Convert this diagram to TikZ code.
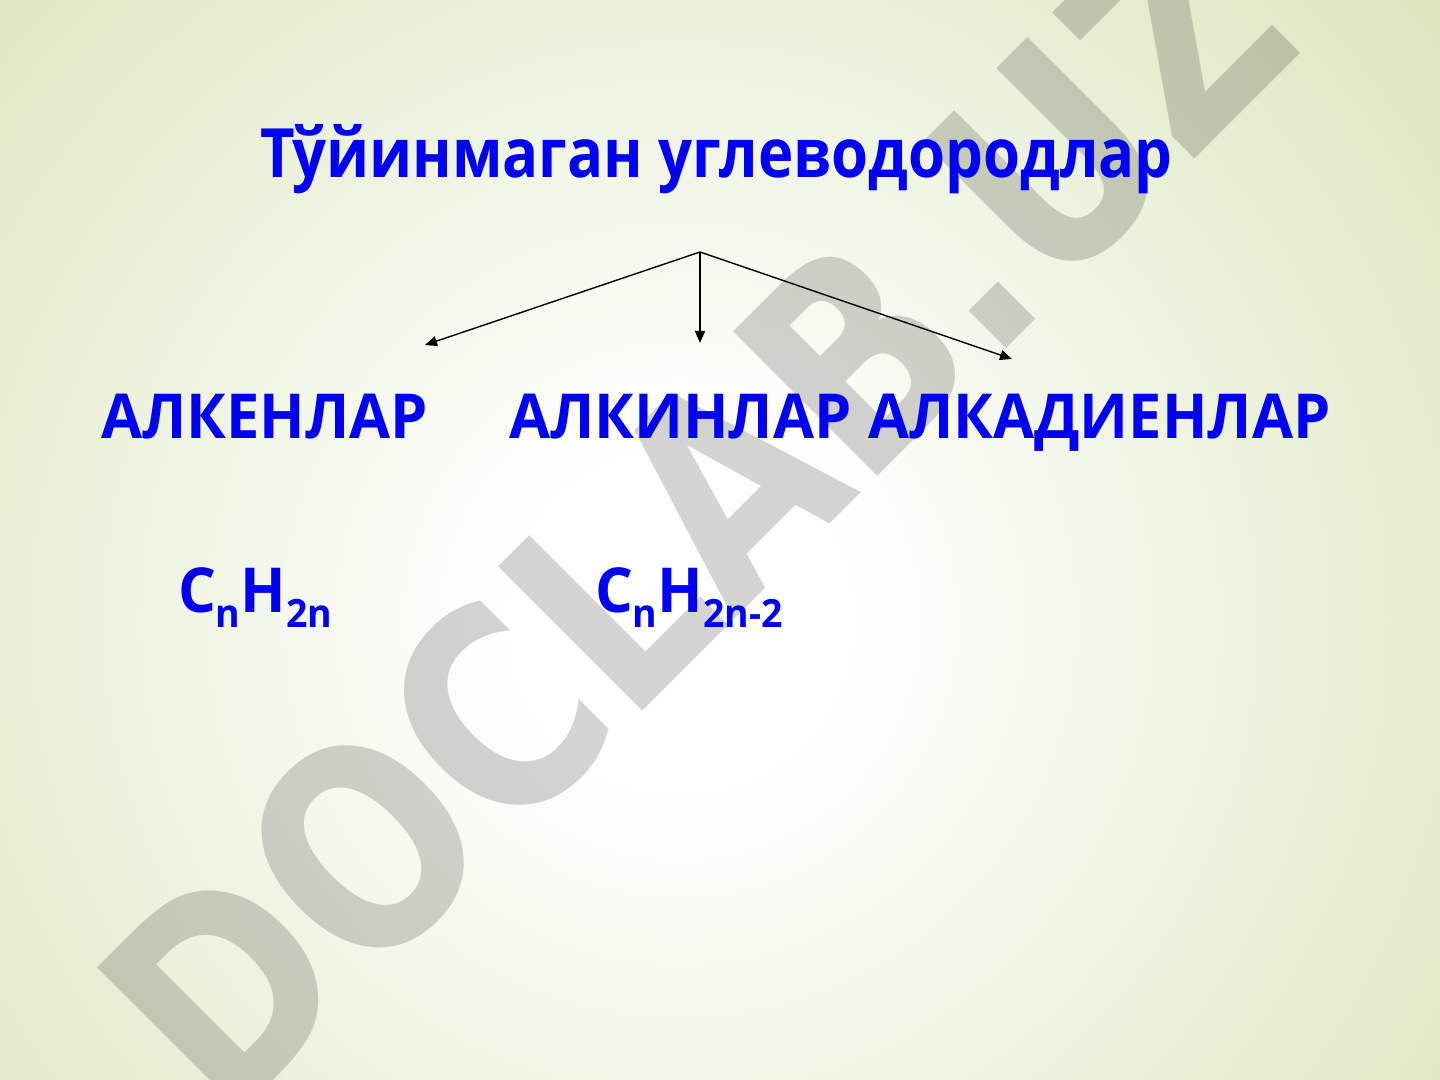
\documentclass[tikz,border=0pt]{standalone}
\usepackage{fontspec}
\setmainfont{Open Sans}
\newfontfamily\wmfont{DejaVu Sans}
\usepackage{graphicx}
\usetikzlibrary{arrows.meta}
\definecolor{bggreen}{RGB}{220,231,192}
\definecolor{txtblue}{RGB}{0,0,245}
\pgfdeclareradialshading{bgshade}{\pgfpoint{0bp}{0bp}}{color(0bp)=(white); color(4bp)=(white); color(24bp)=(bggreen); color(25bp)=(bggreen); color(50bp)=(bggreen)}
\newcommand{\sqz}[1]{\scalebox{0.88}[1]{#1}}
\newcommand{\sqzb}[1]{\scalebox{0.96}[1]{#1}}
\newcommand{\subtxt}[1]{\raisebox{-7.5pt}{\fontsize{19.5}{21}\selectfont #1}}
\begin{document}
\begin{tikzpicture}[x=0.5pt,y=-0.5pt,
  lbl/.style={inner sep=0pt, outer sep=0pt, anchor=base west, text=txtblue},
  bigfont/.style={font=\fontsize{34}{40}\selectfont\bfseries},
  midfont/.style={font=\fontsize{31}{36}\selectfont\bfseries},
  conn/.style={line width=0.7pt, -{Triangle[length=6pt,width=5pt]}}]
\useasboundingbox (0,0) rectangle (1440,1080);
\begin{scope}
\clip (0,0) rectangle (1440,1080);
\fill[bggreen] (0,0) rectangle (1440,1080);
\shade[shading=bgshade] (680,620) circle (1000);
\node[rotate=45, text=black, text opacity=0.17, inner sep=0pt,
      font=\fontsize{140}{150}\wmfont\bfseries] (wm) at (695,515) {\scalebox{0.84}[1]{DOCLAB.UZ}};
\end{scope}
\node[lbl, bigfont] (title) at (260,178) {\sqz{Тўйинмаган углеводородлар}};
\node[lbl, midfont] (alken) at (101,438) {\sqzb{АЛКЕНЛАР}};
\node[lbl, midfont] (alkin) at (509,438) {\sqzb{АЛКИНЛАР}};
\node[lbl, midfont] (alkad) at (868,438) {\sqzb{АЛКАДИЕНЛАР}};
\node[lbl, midfont] (f1) at (178,612) {\sqzb{C\subtxt{n}H\subtxt{2n}}};
\node[lbl, midfont] (f2) at (595,612) {\sqzb{C\subtxt{n}H\subtxt{2n-2}}};
\coordinate (apex) at (700,252);
\coordinate (eL) at (425,345);
\coordinate (eM) at (700,343);
\coordinate (eR) at (1012,359);
\draw[conn] (apex) -- (eL);
\draw[conn] (apex) -- (eM);
\draw[conn] (apex) -- (eR);
\end{tikzpicture}
\end{document}
